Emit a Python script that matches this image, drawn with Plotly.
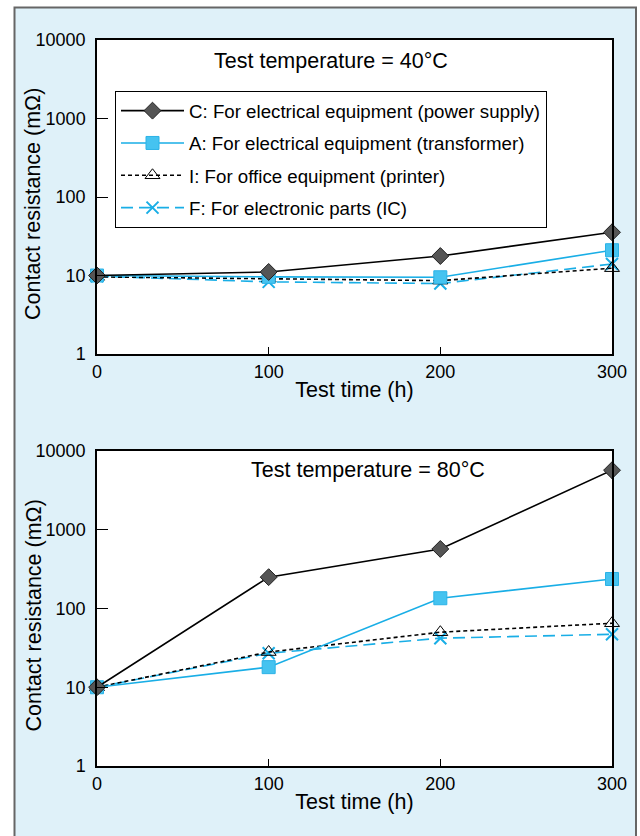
import plotly.graph_objects as go

# ---------------- data ----------------
time_h = [0, 100, 200, 300]
series_names = [
    "C: For electrical equipment (power supply)",
    "A: For electrical equipment (transformer)",
    "I: For office equipment (printer)",
    "F: For electronic parts (IC)",
]
# Test temperature = 40 °C
r40_C = [10, 11.1, 17.7, 35.5]
r40_A = [10, 9.6, 9.5, 21]
r40_I = [9.6, 9.1, 8.6, 12.4]
r40_F = [9.8, 8.3, 7.9, 14]
# Test temperature = 80 °C
r80_C = [10, 250, 570, 5700]
r80_A = [10, 18, 135, 237]
r80_I = [10, 28, 50, 65]
r80_F = [10, 27, 42, 47]

panel_titles = ["Test temperature = 40\u00b0C", "Test temperature = 80\u00b0C"]
y_tickvals = [1, 10, 100, 1000, 10000]
y_ticktext = ["1", "10", "100", "1000", "10000"]
x_tickvals = [0, 100, 200, 300]

# ---------------- styles ----------------
W, H = 640, 836
FONT = "Liberation Sans, Arial, sans-serif"
BLUE = "#19aee6"
BLUE_FILL = "#45c3f0"
BG = "#dff1f9"

styles = {
    "C": dict(line=dict(color="black", width=1.6),
              marker=dict(symbol="diamond", size=13, color="#555555",
                          line=dict(color="#222222", width=1))),
    "A": dict(line=dict(color=BLUE, width=1.6),
              marker=dict(symbol="square", size=13, color=BLUE_FILL,
                          line=dict(color="#2bb2e6", width=1))),
    "I": dict(line=dict(color="black", width=1.6, dash="4px,3px"),
              marker=dict(symbol="triangle-up-open", size=13, color="black",
                          line=dict(color="black", width=1))),
    "F": dict(line=dict(color=BLUE, width=1.6, dash="12px,6px"),
              marker=dict(symbol="x-thin-open", size=12, color=BLUE,
                          line=dict(color=BLUE, width=2))),
}

fig = go.Figure()

def px_x(p):
    return p / W

def px_y(p):
    return 1 - p / H

panels = [
    dict(data={"C": r40_C, "A": r40_A, "I": r40_I, "F": r40_F}, xa="x", ya="y",
         top=40, bottom=354, legend=True),
    dict(data={"C": r80_C, "A": r80_A, "I": r80_I, "F": r80_F}, xa="x2", ya="y2",
         top=451, bottom=766, legend=False),
]
keys = ["C", "A", "I", "F"]
draw_order = ["F", "I", "A", "C"]

for p in panels:
    for k in draw_order:
        idx = keys.index(k)
        st = styles[k]
        fig.add_trace(go.Scatter(
            x=time_h, y=p["data"][k], mode="lines+markers",
            name=series_names[idx], line=st["line"], marker=st["marker"],
            xaxis=p["xa"], yaxis=p["ya"], cliponaxis=False,
            showlegend=p["legend"], legendrank=idx + 1,
            legendgroup="g%d" % (idx + 1),
        ))

x_dom = [px_x(97), px_x(612)]
axis_common = dict(showline=True, linecolor="black", linewidth=1.5, mirror=True,
                   ticks="inside", tickcolor="black", tickwidth=1,
                   showgrid=False, zeroline=False, automargin=False,
                   tickfont=dict(family=FONT, size=18, color="black"))

layout_axes = {}
for i, p in enumerate(panels):
    sx = "" if i == 0 else "2"
    layout_axes["xaxis" + sx] = dict(
        axis_common, domain=x_dom, range=[0, 300], tickvals=x_tickvals,
        ticklen=7, ticklabelstandoff=1, anchor="y" + sx,
        title=dict(text="Test time (h)", standoff=1,
                   font=dict(family=FONT, size=21.5, color="black")))
    layout_axes["yaxis" + sx] = dict(
        axis_common, domain=[px_y(p["bottom"]), px_y(p["top"])], type="log",
        range=[0, 4], tickvals=y_tickvals, ticktext=y_ticktext,
        ticklen=11, ticklabelstandoff=6, anchor="x" + sx)

shapes = [
    dict(type="rect", xref="paper", yref="paper", x0=px_x(14.5), x1=px_x(636),
         y0=-0.05, y1=px_y(7.5), fillcolor=BG, line=dict(color="#666666", width=2),
         layer="below"),
    dict(type="rect", xref="x domain", yref="y domain", x0=0, x1=1, y0=0, y1=1,
         fillcolor="white", line=dict(width=0), layer="below"),
    dict(type="rect", xref="x2 domain", yref="y2 domain", x0=0, x1=1, y0=0, y1=1,
         fillcolor="white", line=dict(width=0), layer="below"),
]

annotations = []
for i, p in enumerate(panels):
    annotations.append(dict(
        text="Contact resistance (m\u03a9)", textangle=-90, xref="paper", yref="paper",
        x=px_x(33), y=px_y((p["top"] + p["bottom"]) / 2 + 7), showarrow=False,
        xanchor="center", yanchor="middle",
        font=dict(family=FONT, size=21.5, color="black")))
annotations.append(dict(text=panel_titles[0], xref="paper", yref="paper",
                        x=px_x(331), y=px_y(61), showarrow=False,
                        xanchor="center", yanchor="middle",
                        font=dict(family=FONT, size=21.5, color="black")))
annotations.append(dict(text=panel_titles[1], xref="paper", yref="paper",
                        x=px_x(368), y=px_y(470), showarrow=False,
                        xanchor="center", yanchor="middle",
                        font=dict(family=FONT, size=21.5, color="black")))

fig.update_layout(
    width=W, height=H, margin=dict(l=0, r=0, t=0, b=0),
    paper_bgcolor="white", plot_bgcolor="white",
    font=dict(family=FONT, size=18, color="black"),
    shapes=shapes, annotations=annotations,
    legend=dict(x=px_x(115), y=px_y(91), xanchor="left", yanchor="top",
                bgcolor="white", bordercolor="black", borderwidth=1,
                font=dict(family=FONT, size=18.7, color="black"),
                itemwidth=63, tracegroupgap=5, traceorder="grouped",
                entrywidth=420, entrywidthmode="pixels"),
    **layout_axes,
)

fig.write_html("out.html")
